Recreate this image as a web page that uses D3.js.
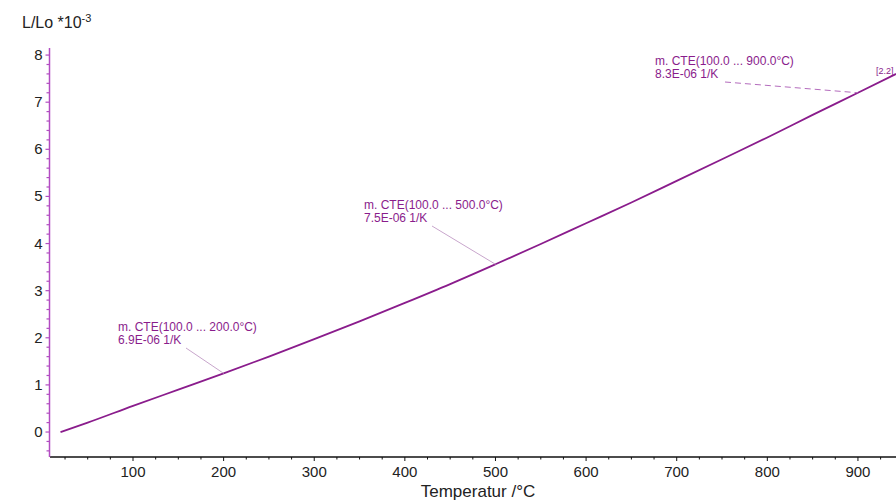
<!DOCTYPE html>
<html>
<head>
<meta charset="utf-8">
<script src="https://cdn.jsdelivr.net/npm/d3@7"></script>
<style>
  body { margin: 0; background: #fff; }
  svg text { font-family: "Liberation Sans", Arial, sans-serif; }
</style>
</head>
<body>
<div id="chart"></div>
<script>
// temperature (°C) and dL/Lo (*10^-3)
const temps = [20, 50, 100, 150, 200, 250, 300, 350, 400, 450, 500, 550, 600, 650, 700, 750, 800, 850, 900, 942];
const dL = [0.0, 0.2, 0.555, 0.9, 1.245, 1.6, 1.97, 2.35, 2.74, 3.14, 3.56, 3.99, 4.43, 4.87, 5.33, 5.79, 6.25, 6.73, 7.2, 7.6];

const xTicks = [100, 200, 300, 400, 500, 600, 700, 800, 900];
const yTicks = [0, 1, 2, 3, 4, 5, 6, 7, 8];

// mean CTE annotations: range, value, temperature where the leader hits the curve
const cteRanges = ['m. CTE(100.0 ... 200.0°C)', 'm. CTE(100.0 ... 500.0°C)', 'm. CTE(100.0 ... 900.0°C)'];
const cteValues = ['6.9E-06 1/K', '7.5E-06 1/K', '8.3E-06 1/K'];
const cteAt = [200, 500, 900];

const width = 896, height = 500;
const curveColor = '#8a1c8c';
const axisColor = '#b24cc2';

const svg = d3.select('#chart').append('svg')
  .attr('width', width)
  .attr('height', height);

const x = d3.scaleLinear().domain([8.4, 942]).range([50, 896]);
const y = d3.scaleLinear().domain([-0.53, 8.15]).range([457, 48]);

// x axis (black), ticks below
const xAxisG = svg.append('g').attr('transform', 'translate(0,457)');
xAxisG.append('line')
  .attr('x1', 50).attr('x2', width)
  .attr('stroke', '#111').attr('stroke-width', 1.5);
xAxisG.selectAll('.minor')
  .data(d3.range(25, 950, 25))
  .enter().append('line')
  .attr('x1', d => x(d)).attr('x2', d => x(d))
  .attr('y1', 0).attr('y2', d => d % 100 === 0 ? 4 : 2.5)
  .attr('stroke', '#111');
xAxisG.selectAll('text')
  .data(xTicks)
  .enter().append('text')
  .attr('x', d => x(d)).attr('y', 20)
  .attr('text-anchor', 'middle')
  .attr('font-size', 15)
  .attr('fill', '#222')
  .text(d => d);

svg.append('text')
  .attr('x', 478).attr('y', 497)
  .attr('text-anchor', 'middle')
  .attr('font-size', 17)
  .attr('fill', '#222')
  .text('Temperatur /°C');

// y axis (purple), ticks left
const yAxisG = svg.append('g').attr('transform', 'translate(49.5,0)');
yAxisG.append('line')
  .attr('y1', y(8.15)).attr('y2', 457)
  .attr('stroke', axisColor).attr('stroke-width', 1.5);
yAxisG.selectAll('.minor')
  .data(d3.range(-0.4, 8.01, 0.2))
  .enter().append('line')
  .attr('y1', d => y(d)).attr('y2', d => y(d))
  .attr('x1', d => Math.abs(d - Math.round(d)) < 1e-6 ? -4 : -3).attr('x2', 0)
  .attr('stroke', axisColor).attr('stroke-width', 1.2);
yAxisG.selectAll('text')
  .data(yTicks)
  .enter().append('text')
  .attr('x', -7).attr('y', d => y(d) + 5)
  .attr('text-anchor', 'end')
  .attr('font-size', 15)
  .attr('fill', '#222')
  .text(d => d);

const yTitle = svg.append('text')
  .attr('x', 22).attr('y', 28)
  .attr('font-size', 16)
  .attr('fill', '#222');
yTitle.append('tspan').text('L/Lo *10');
yTitle.append('tspan').attr('dy', -6).attr('font-size', 11).text('-3');

// curve
const line = d3.line()
  .x((d, i) => x(temps[i]))
  .y(d => y(d))
  .curve(d3.curveMonotoneX);

svg.append('path')
  .datum(dL)
  .attr('d', line)
  .attr('fill', 'none')
  .attr('stroke', curveColor)
  .attr('stroke-width', 1.8);

// annotations
const labelPos = [[118, 331], [364, 209], [655, 65]];
const cteInterp = t => {
  const i = d3.bisectLeft(temps, t);
  if (temps[i] === t) return dL[i];
  const f = (t - temps[i - 1]) / (temps[i] - temps[i - 1]);
  return dL[i - 1] + f * (dL[i] - dL[i - 1]);
};

cteRanges.forEach((txt, i) => {
  const [lx, ly] = labelPos[i];
  const g = svg.append('g');
  g.append('text')
    .attr('x', lx).attr('y', ly)
    .attr('font-size', 12)
    .attr('fill', curveColor)
    .text(txt);
  g.append('text')
    .attr('x', lx).attr('y', ly + 13)
    .attr('font-size', 12)
    .attr('fill', curveColor)
    .text(cteValues[i]);
  const startX = i === 2 ? lx + 70 : lx + 68;
  const startY = ly + 17;
  g.append('line')
    .attr('x1', startX).attr('y1', startY)
    .attr('x2', x(cteAt[i])).attr('y2', y(cteInterp(cteAt[i])))
    .attr('stroke', i === 2 ? '#b46cbd' : '#c8a6cc')
    .attr('stroke-width', 1)
    .attr('stroke-dasharray', i === 2 ? '6,4' : null);
});

svg.append('text')
  .attr('x', 876).attr('y', 74)
  .attr('font-size', 9)
  .attr('fill', curveColor)
  .text('[2.2]');
</script>
</body>
</html>
